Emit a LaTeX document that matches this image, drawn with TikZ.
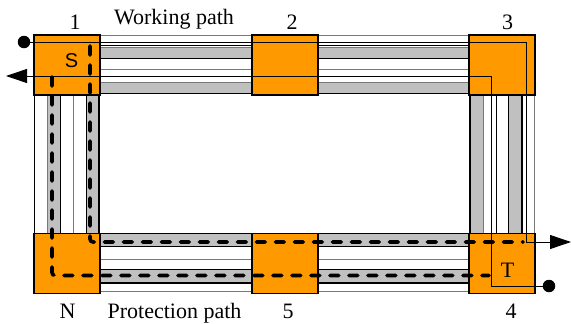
\documentclass[tikz,border=0pt]{standalone}
\usepackage{fontspec}
\setmainfont{Liberation Serif}
\newfontfamily\sansf{Liberation Sans}
\usetikzlibrary{arrows.meta,calc,backgrounds}

\definecolor{boxorange}{RGB}{255,153,0}
\definecolor{fibregray}{RGB}{192,192,192}
\definecolor{edgegray}{RGB}{120,120,120}

% fibre bundle between two nodes, offsets measured from the box edge
\newcommand\linkh[4]{\draw[#4] ($(#1.north east)+(0,#3)$) -- ($(#2.north west)+(0,#3)$);}
\newcommand\bandh[4]{\fill[fibregray] ($(#1.north east)+(0,#3)$) rectangle ($(#2.north west)+(0,#4)$);}
\newcommand\linkv[4]{\draw[#4] ($(#1.south west)+(#3,0)$) -- ($(#2.north west)+(#3,0)$);}
\newcommand\bandv[4]{\fill[fibregray] ($(#1.south west)+(#3,0)$) rectangle ($(#2.north west)+(#4,0)$);}

\newcommand\toplink[2]{%
  \bandh{#1}{#2}{12}{23.5}\bandh{#1}{#2}{47}{58.5}%
  \linkh{#1}{#2}{0.5}{gline}\linkh{#1}{#2}{10.5}{bline}%
  \linkh{#1}{#2}{12}{gline}\linkh{#1}{#2}{23.5}{bthick}%
  \linkh{#1}{#2}{34.5}{gline}%
  \linkh{#1}{#2}{47}{gline}\linkh{#1}{#2}{58.5}{bthick}}
\newcommand\botlink[2]{%
  \bandh{#1}{#2}{0}{13}\bandh{#1}{#2}{36}{49.5}%
  \linkh{#1}{#2}{0.3}{bline}\linkh{#1}{#2}{13}{bthick}%
  \linkh{#1}{#2}{25.5}{gline}%
  \linkh{#1}{#2}{36}{bline}\linkh{#1}{#2}{49.5}{bthick}%
  \linkh{#1}{#2}{58}{gline}}

\begin{document}
\begin{tikzpicture}[x=1pt,y=-1pt,
  nodebox/.style={draw=black,line width=1.5pt,fill=boxorange,
    minimum width=66pt,minimum height=60pt,inner sep=0pt,outer sep=0pt},
  lbl/.style={font=\fontsize{22}{22}\selectfont,inner sep=0pt,anchor=base},
  gline/.style={draw=edgegray,line width=0.8pt},
  bline/.style={draw=black,line width=0.8pt},
  bthick/.style={draw=black,line width=1.3pt},
  route/.style={draw=black,line width=0.9pt},
  endtip/.style={-{Triangle[length=21pt,width=14pt]}},
  prot/.style={draw=black,line width=3.6pt,dash pattern=on 9pt off 10pt,
    line cap=round,rounded corners=3pt},
  dot/.style={circle,fill=black,minimum size=12.5pt,inner sep=0pt}]
\useasboundingbox (0,0) rectangle (571,324);

% nodes
\node[nodebox] (n1) at (67,65) {};
\node[nodebox] (n2) at (285,65) {};
\node[nodebox] (n3) at (502,65) {};
\node[nodebox] (nN) at (67,263.5) {};
\node[nodebox] (n5) at (285,263.5) {};
\node[nodebox] (n4) at (502,263.5) {};

% links
\begin{scope}[on background layer]
  \toplink{n1}{n2}
  \toplink{n2}{n3}
  \botlink{nN}{n5}
  \botlink{n5}{n4}
  % left vertical link
  \bandv{n1}{nN}{13}{26}\bandv{n1}{nN}{52}{65}
  \linkv{n1}{nN}{0}{bline}
  \linkv{n1}{nN}{13}{gline}\linkv{n1}{nN}{26.5}{bthick}
  \linkv{n1}{nN}{39}{gline}
  \linkv{n1}{nN}{52.5}{bline}\linkv{n1}{nN}{65}{bthick}
  % right vertical link
  \bandv{n3}{n4}{1}{14}\bandv{n3}{n4}{39}{53}
  \linkv{n3}{n4}{1}{bthick}\linkv{n3}{n4}{14.5}{gline}
  \linkv{n3}{n4}{27}{bline}
  \linkv{n3}{n4}{39}{bline}\linkv{n3}{n4}{53}{bthick}
  \linkv{n3}{n4}{65}{gline}
\end{scope}

% working routes
\node[dot] (srcA) at (24,42) {};
\node[dot] (srcB) at (549,286) {};
\coordinate (turnA) at (526,242);
\coordinate (turnB) at (491,76);
\coordinate (sinkA) at (571,242);
\coordinate (sinkB) at (6,76);
\draw[route,endtip] (srcA.center) -| (turnA) -- (sinkA);
\draw[route,endtip] (srcB.center) -| (turnB) -- (sinkB);

% protection routes
\coordinate (pA) at (90,46);
\coordinate (pAc) at (90,242);
\coordinate (pAe) at (523,242);
\coordinate (pB) at (52,77);
\coordinate (pBc) at (52,275.5);
\coordinate (pBe) at (489,275.5);
\draw[prot] (pA) -- (pAc) -- (pAe);
\draw[prot] (pB) -- (pBc) -- (pBe);

% labels
\node[lbl] (l1) at (75,30) {1};
\node[lbl] (l2) at (292,30) {2};
\node[lbl] (l3) at (507.5,30) {3};
\node[lbl] (lw) at (174,24.5) {Working path};
\node[lbl] (lN) at (67.5,318) {N};
\node[lbl] (lp) at (174.5,318) {Protection path};
\node[lbl] (l5) at (288,318) {5};
\node[lbl] (l4) at (511,318) {4};
\node[inner sep=0pt,anchor=base,font=\sansf\fontsize{20}{20}\selectfont] (lS) at (71.5,67) {S};
\node[lbl] (lT) at (507.5,277) {T};
\end{tikzpicture}
\end{document}
